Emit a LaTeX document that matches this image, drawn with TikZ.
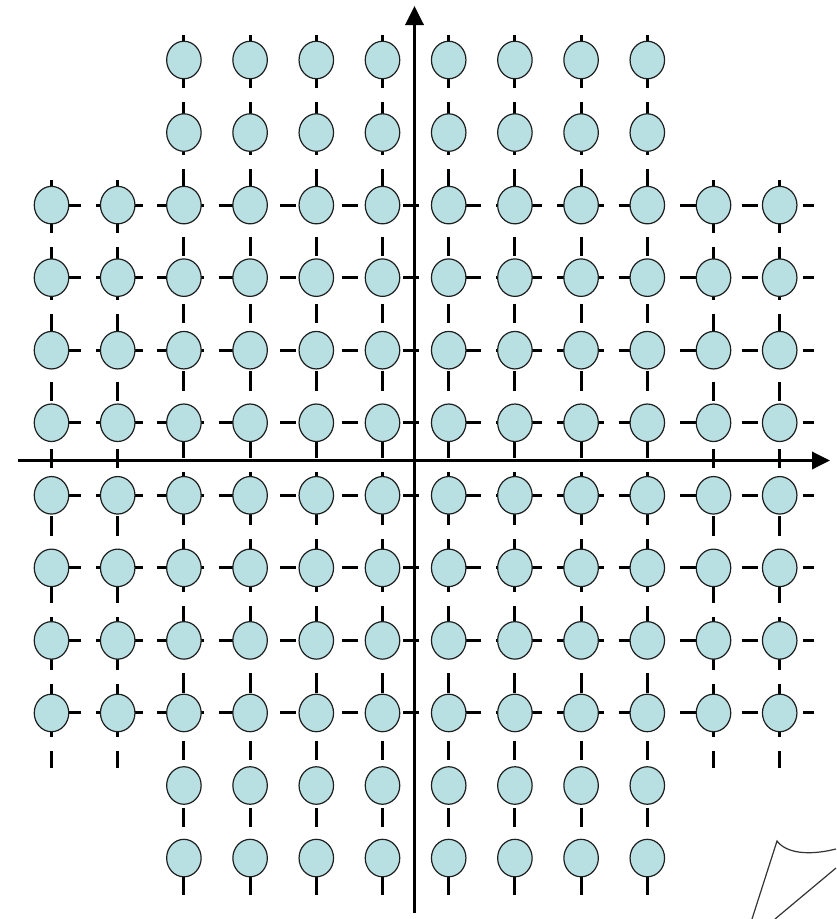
\documentclass[tikz,border=0pt]{standalone}
\usetikzlibrary{shapes.geometric,arrows.meta}
\definecolor{dotfill}{RGB}{184,224,227}
\definecolor{dotline}{RGB}{30,30,30}
\tikzset{
  dot/.style={ellipse,draw=dotline,fill=dotfill,line width=1.2pt,
    minimum width=34.5pt,minimum height=37.5pt,inner sep=0pt},
  hgrid/.style={line width=3pt,dash pattern=on 16pt off 14.75pt},
  vgrid/.style={line width=3pt,dash pattern=on 19.5pt off 14.1pt},
  axisline/.style={line width=3.5pt},
  curl/.style={line width=1.2pt,draw=black!80}
}
\begin{document}
\begin{tikzpicture}[x=1pt,y=-1pt]
\useasboundingbox (0,0) rectangle (836,919);
% horizontal dashed lines (rows 3..10)
\foreach \j in {3,...,10} {
  \coordinate (hs\j) at (34.25,{60+72.55*(\j-1)});
  \coordinate (he\j) at (814,{60+72.55*(\j-1)});
  \draw[hgrid] (hs\j) -- (he\j);
}
% vertical dashed lines, inner columns
\foreach \i in {3,...,10} {
  \coordinate (vs\i) at ({51.5+66.2*(\i-1)},35);
  \coordinate (ve\i) at ({51.5+66.2*(\i-1)},895);
  \draw[vgrid] (vs\i) -- (ve\i);
}
% vertical dashed lines, outer columns
\foreach \i in {1,2,11,12} {
  \coordinate (vs\i) at ({51.5+66.2*(\i-1)},180);
  \coordinate (ve\i) at ({51.5+66.2*(\i-1)},768);
  \draw[vgrid] (vs\i) -- (ve\i);
}
% constellation points
\foreach \i in {3,...,10} {
  \foreach \j in {1,...,12} {
    \node[dot] (c\i-\j) at ({51.5+66.2*(\i-1)},{60+72.55*(\j-1)}) {};
  }
}
\foreach \i in {1,2,11,12} {
  \foreach \j in {3,...,10} {
    \node[dot] (c\i-\j) at ({51.5+66.2*(\i-1)},{60+72.55*(\j-1)}) {};
  }
}
% axes
\coordinate (xs) at (18,460.5);
\coordinate (xe) at (830,460.5);
\coordinate (ys) at (414.5,913);
\coordinate (ye) at (414.5,6);
\draw[axisline,-{Triangle[length=18pt,width=17pt]}] (xs) -- (xe);
\draw[axisline,-{Triangle[length=19pt,width=18pt]}] (ys) -- (ye);
% page curl at bottom right
\draw[curl] (752,919) -- (777,841) .. controls (786,853) and (808,856) .. (836,849);
\draw[curl] (775,919) -- (836,868);
\end{tikzpicture}
\end{document}
